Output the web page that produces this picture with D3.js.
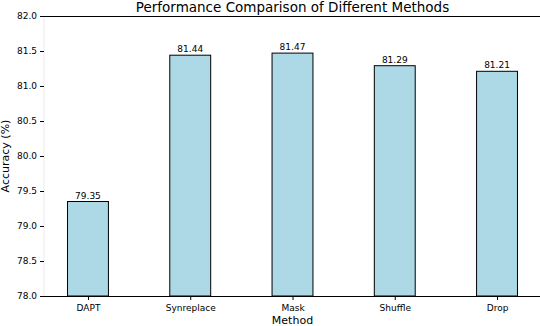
<!DOCTYPE html>
<html>
<head>
<meta charset="utf-8">
<script src="https://cdn.jsdelivr.net/npm/d3@7"></script>
<style>
  body { margin: 0; background: #fff; }
  text { font-family: 'DejaVu Sans', sans-serif; }
</style>
</head>
<body>
<div id="chart"></div>
<script>
(function() {
  // data
  var methods = ['DAPT', 'Synreplace', 'Mask', 'Shuffle', 'Drop'],
      accuracy = [79.35, 81.44, 81.47, 81.29, 81.21],
      yTicks = [78.0, 78.5, 79.0, 79.5, 80.0, 80.5, 81.0, 81.5, 82.0];

  var W = 540, H = 326,
      left = 44, right = 541, top = 16, bottom = 296;

  var svg = d3.select('#chart').append('svg')
    .attr('width', W)
    .attr('height', H);

  var x = d3.scaleLinear().domain([-0.43, methods.length - 1 + 0.43]).range([left, right]),
      y = d3.scaleLinear().domain([78, 82]).range([bottom, top]),
      bw = x(0.4) - x(0);

  // left spine (faint) and top spine
  svg.append('line')
    .attr('x1', left).attr('x2', left)
    .attr('y1', top).attr('y2', bottom)
    .attr('stroke', '#ebebeb')
  svg.append('line')
    .attr('x1', left).attr('x2', right)
    .attr('y1', top + 0.5).attr('y2', top + 0.5)
    .attr('stroke', '#000')

  // bars
  svg.selectAll('rect.bar')
    .data(accuracy)
    .join('rect')
    .attr('class', 'bar')
    .attr('x', function(d, i) { return x(i) - bw / 2; })
    .attr('y', function(d) { return y(d); })
    .attr('width', bw)
    .attr('height', function(d) { return bottom - y(d); })
    .attr('fill', '#add8e6')
    .attr('stroke', '#000')
    .attr('stroke-width', 1)

  // value labels
  svg.selectAll('text.val')
    .data(accuracy)
    .join('text')
    .attr('class', 'val')
    .attr('x', function(d, i) { return x(i); })
    .attr('y', function(d) { return y(d) - 3; })
    .attr('text-anchor', 'middle')
    .attr('font-size', 9)
    .attr('fill', '#000')
    .text(function(d) { return d.toFixed(2); })

  // y axis
  var ya = svg.append('g')
    .attr('transform', 'translate(' + left + ',0)')
    .call(d3.axisLeft(y).tickValues(yTicks).tickFormat(d3.format('.1f')).tickSize(4).tickPadding(3));
  ya.select('.domain').remove();
  ya.selectAll('text').attr('font-size', 9).attr('font-family', 'DejaVu Sans');

  // x axis
  var xa = svg.append('g')
    .attr('transform', 'translate(0,' + bottom + ')')
    .call(d3.axisBottom(x).tickValues(d3.range(methods.length))
      .tickFormat(function(i) { return methods[i]; }).tickSize(4).tickPadding(5));
  xa.select('.domain').remove();
  xa.selectAll('text').attr('font-size', 9).attr('font-family', 'DejaVu Sans');
  svg.append('line')
    .attr('x1', left).attr('x2', right)
    .attr('y1', bottom + 0.5).attr('y2', bottom + 0.5)
    .attr('stroke', '#000')

  // labels
  svg.append('text')
    .attr('x', (left + right) / 2)
    .attr('y', 12)
    .attr('text-anchor', 'middle')
    .attr('font-size', 13.5)
    .text('Performance Comparison of Different Methods')

  svg.append('text')
    .attr('x', (left + right) / 2)
    .attr('y', 324)
    .attr('text-anchor', 'middle')
    .attr('font-size', 11)
    .text('Method')

  svg.append('text')
    .attr('transform', 'translate(9,' + ((top + bottom) / 2) + ') rotate(-90)')
    .attr('text-anchor', 'middle')
    .attr('font-size', 11)
    .text('Accuracy (%)')
})()
</script>
</body>
</html>
